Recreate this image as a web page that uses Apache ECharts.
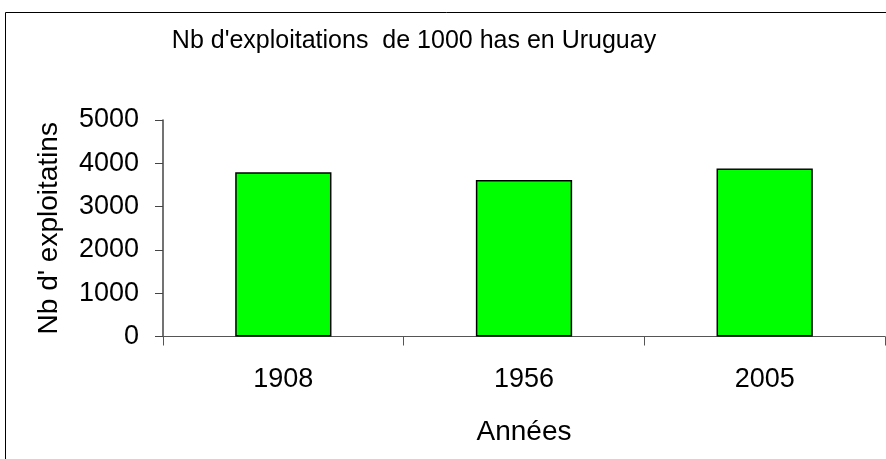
<!DOCTYPE html>
<html>
<head>
<meta charset="utf-8">
<script src="https://cdn.jsdelivr.net/npm/echarts@6/dist/echarts.min.js"></script>
<style>
html,body{margin:0;padding:0;background:#fff;}
#chart{width:886px;height:459px;}
</style>
</head>
<body>
<div id="chart"></div>
<script>
// Farm counts per census year
const years = ['1908', '1956', '2005'];
const farms = [3795, 3615, 3880];
const yTicks = [0, 1000, 2000, 3000, 4000, 5000];

const chart = echarts.init(document.getElementById('chart'), null, {renderer: 'canvas'});
const font = 'Liberation Sans, Arial, sans-serif';

chart.setOption({
  animation: false,
  backgroundColor: '#fff',
  title: {
    text: "Nb d'exploitations  de 1000 has en Uruguay",
    left: 409, top: 24, textAlign: 'center',
    textStyle: {fontFamily: font, fontWeight: 'normal', fontSize: 25, color: '#000'}
  },
  graphic: [{
    type: 'rect', shape: {x: 5.5, y: 12.5, width: 900, height: 460},
    style: {fill: 'none', stroke: '#000', lineWidth: 1}, silent: true, z: -1
  }],
  grid: {left: 163, right: 1, top: 120, bottom: 122.5, containLabel: false},
  xAxis: {
    type: 'category',
    data: years,
    name: 'Années', nameLocation: 'middle', nameGap: 82,
    nameTextStyle: {fontFamily: font, fontSize: 28, color: '#000'},
    axisLine: {lineStyle: {color: '#555', width: 1}},
    axisTick: {show: true, length: 9, alignWithLabel: false, lineStyle: {color: '#555'}},
    axisLabel: {fontFamily: font, fontSize: 27, color: '#000', margin: 30}
  },
  yAxis: {
    type: 'value',
    min: yTicks[0], max: yTicks[yTicks.length - 1], interval: 1000,
    name: "Nb d' exploitatins", nameLocation: 'middle', nameGap: 100, nameRotate: 90,
    nameTextStyle: {fontFamily: font, fontSize: 28, color: '#000'},
    axisLine: {show: true, lineStyle: {color: '#444', width: 1.5}},
    axisTick: {show: true, length: 8, lineStyle: {color: '#444'}},
    splitLine: {show: false},
    axisLabel: {fontFamily: font, fontSize: 27, color: '#000', margin: 24,
      formatter: v => String(v)}
  },
  series: [{
    type: 'bar',
    data: farms,
    barWidth: '40%',
    itemStyle: {color: '#00ff00', borderColor: '#000', borderWidth: 1.5}
  }]
});
</script>
</body>
</html>
